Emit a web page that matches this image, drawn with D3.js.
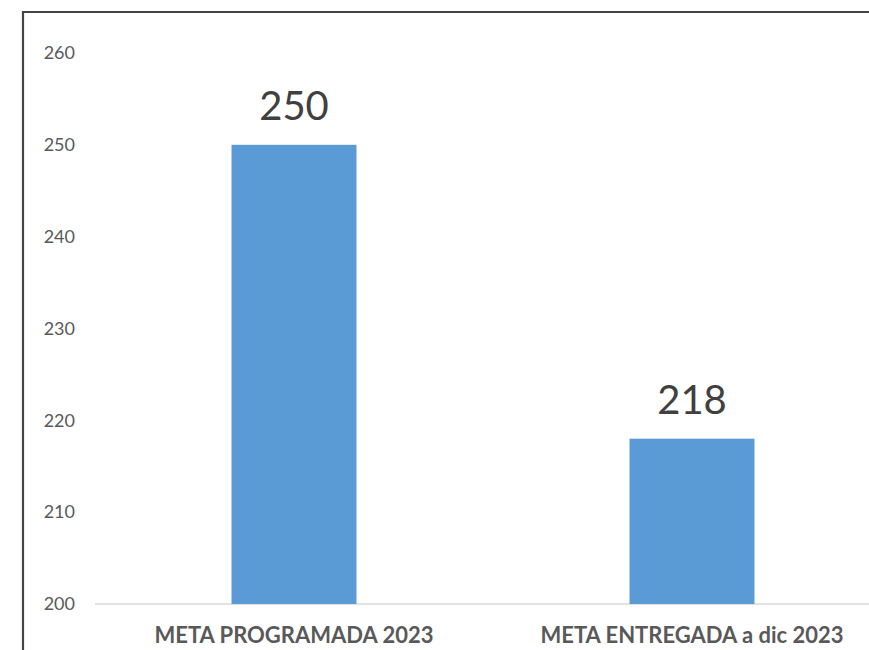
<!DOCTYPE html>
<html>
<head>
<meta charset="utf-8">
<script src="https://cdnjs.cloudflare.com/ajax/libs/d3/7.8.5/d3.min.js"></script>
<style>
  body { margin: 0; background: #fff; }
  svg { display: block; }
</style>
</head>
<body>
<div id="chart"></div>
<script>
// Chart data
var categories = ["META PROGRAMADA 2023", "META ENTREGADA a dic 2023"];
var values = [250, 218];
var yTicks = [200, 210, 220, 230, 240, 250, 260];

var W = 869, H = 650;
var margin = { top: 53, right: 0, bottom: 46, left: 95 };
var height = H - margin.top - margin.bottom;

var svg = d3.select("#chart").append("svg")
    .attr("width", W)
    .attr("height", H);

// frame lines (top and left edge of the screenshot)
svg.append("path")
    .attr("d", "M23,650 L23,12 L869,12")
    .attr("fill", "none")
    .attr("stroke", "#444")
    .attr("stroke-width", 2.2);

// Scales
var x = d3.scaleBand()
    .domain(categories)
    .range([margin.left, margin.left + 796])
    .paddingInner(0.686)
    .paddingOuter(0.343);

var y = d3.scaleLinear()
    .domain([200, 260])
    .range([margin.top + height, margin.top]);

// Y axis
var yAxis = d3.axisLeft(y)
    .tickValues(yTicks)
    .tickSize(0)
    .tickPadding(20)
    .tickFormat(d3.format("d"));

var gy = svg.append("g")
    .attr("transform", "translate(" + margin.left + ",0)")
    .call(yAxis);
gy.select(".domain").remove();
gy.selectAll("text")
    .attr("fill", "#595959")
    .style("font-family", "Lato, 'Open Sans', sans-serif")
    .style("font-size", "18px");

// baseline
svg.append("line")
    .attr("x1", margin.left)
    .attr("x2", W)
    .attr("y1", y(200))
    .attr("y2", y(200))
    .attr("stroke", "#d9d9d9")
    .attr("stroke-width", 1.5);

// Bars
svg.selectAll(".bar")
    .data(values)
    .enter().append("rect")
    .attr("class", "bar")
    .attr("x", function(d, i) { return x(categories[i]); })
    .attr("width", x.bandwidth())
    .attr("y", function(d) { return y(d); })
    .attr("height", function(d) { return y(200) - y(d); })
    .attr("fill", "#5b9bd5");

// Value labels
svg.selectAll(".val")
    .data(values)
    .enter().append("text")
    .attr("class", "val")
    .attr("x", function(d, i) { return x(categories[i]) + x.bandwidth() / 2; })
    .attr("y", function(d) { return y(d) - 25; })
    .attr("text-anchor", "middle")
    .attr("fill", "#404040")
    .style("font-family", "Lato, 'Open Sans', sans-serif")
    .style("font-size", "40px")
    .text(function(d) { return d; });

// Category labels
svg.selectAll(".cat")
    .data(categories)
    .enter().append("text")
    .attr("class", "cat")
    .attr("x", function(d) { return x(d) + x.bandwidth() / 2; })
    .attr("y", y(200) + 39)
    .attr("text-anchor", "middle")
    .attr("fill", "#595959")
    .style("font-family", "Lato, 'Open Sans', sans-serif")
    .style("font-weight", "bold")
    .style("font-size", "22px")
    .text(function(d) { return d; });
</script>
</body>
</html>
